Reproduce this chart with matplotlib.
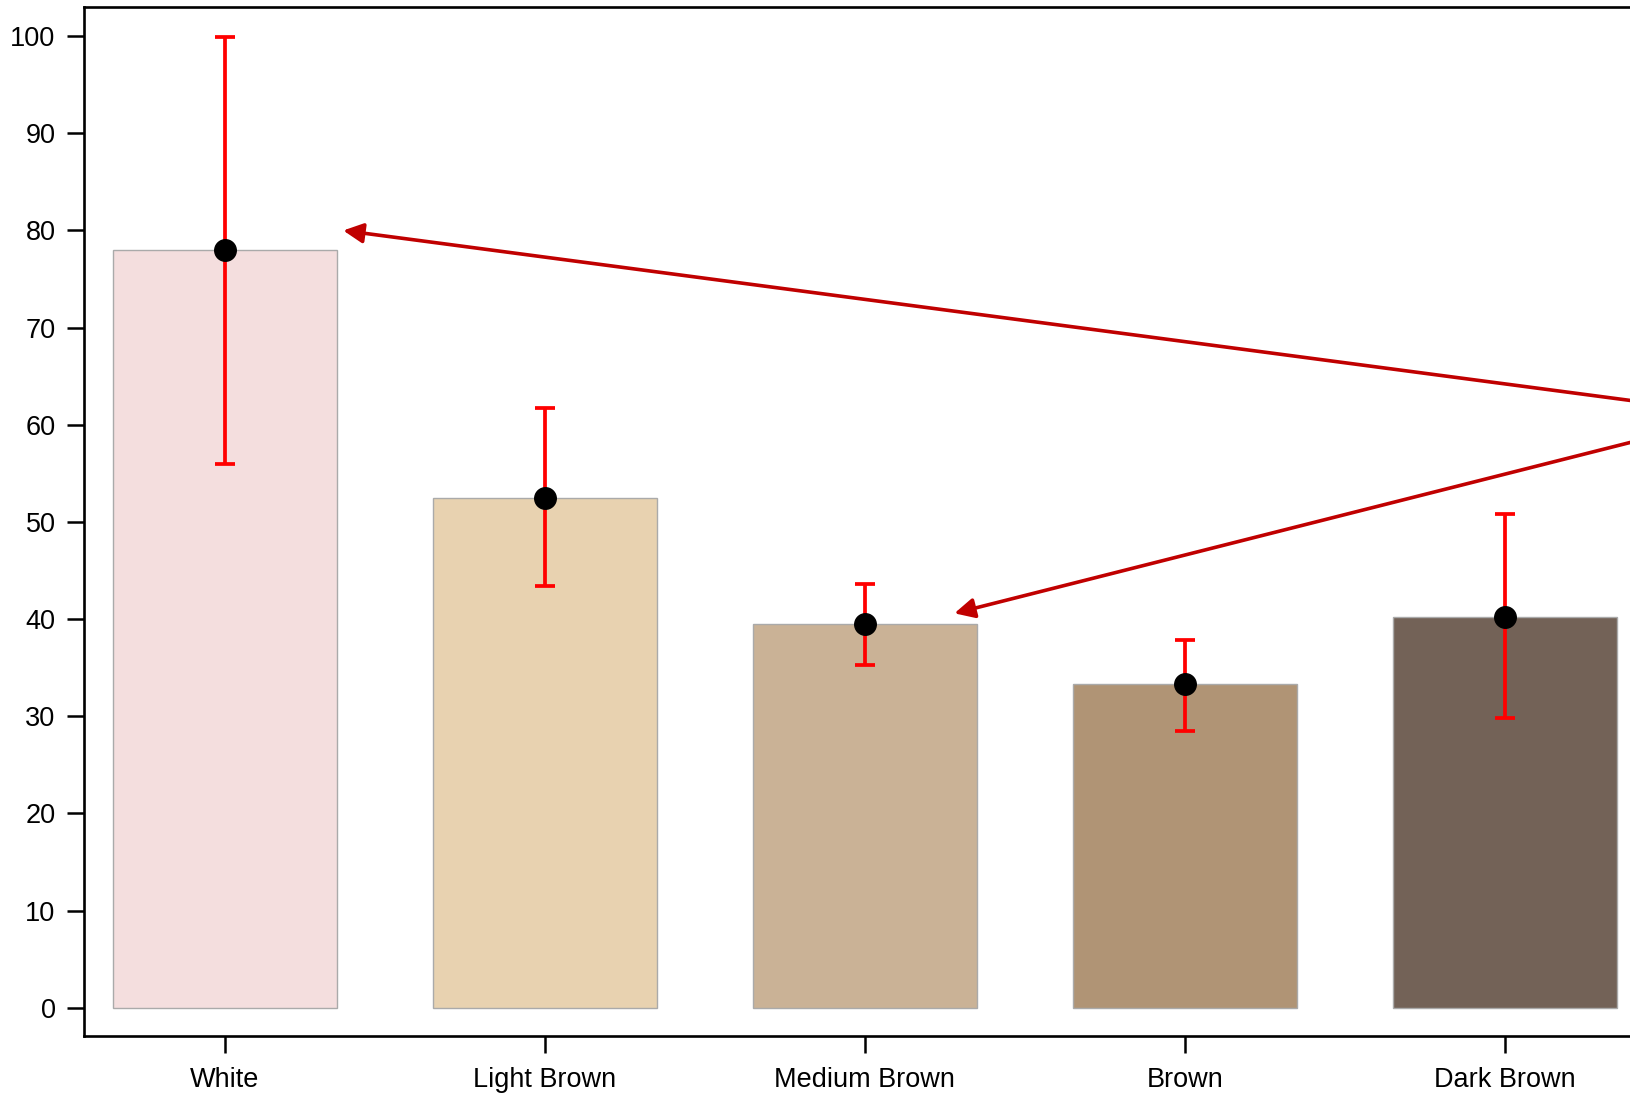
import matplotlib
matplotlib.use("Agg")
import matplotlib.pyplot as plt

categories = ["White", "Light Brown", "Medium Brown", "Brown", "Dark Brown"]
means = [78.0, 52.5, 39.5, 33.3, 40.2]
upper = [99.9, 61.7, 43.6, 37.9, 50.8]
lower = [56.0, 43.4, 35.3, 28.5, 29.8]
bar_colors = ["#F4DEDE", "#E8D2B0", "#CAB296", "#B09475", "#736257"]
yticks = [0, 10, 20, 30, 40, 50, 60, 70, 80, 90, 100]

# arrow targets/sources (data coordinates)
arrow_heads = [(0.37, 80.0), (2.28, 40.6)]
arrow_tails = [(4.67, 61.3), (4.67, 60.5)]

plt.rcParams['font.family'] = ['Liberation Sans', 'DejaVu Sans']

W, H = 1630, 1095
fig = plt.figure(figsize=(W / 100, H / 100), dpi=100)
left_px, bottom_px, top_px = 84, 1036, 7
x0, x1 = -0.44, 4.44
px_per_unit = 320
right_px = left_px + (x1 - x0) * px_per_unit
ax = fig.add_axes([left_px / W, (H - bottom_px) / H,
                   (right_px - left_px) / W, (bottom_px - top_px) / H])

xs = list(range(len(categories)))
ax.bar(xs, means, width=0.7, color=bar_colors, edgecolor="#aaaaaa", linewidth=1.0, zorder=1)
yerr = [[m - l for m, l in zip(means, lower)], [u - m for m, u in zip(means, upper)]]
ax.errorbar(xs, means, yerr=yerr, fmt="none", ecolor="#FF0000", elinewidth=2.7,
            capsize=7.5, capthick=2.7, zorder=2)
ax.plot(xs, means, "o", color="black", markersize=15.5, zorder=3)

for (hx, hy), (tx, ty) in zip(arrow_heads, arrow_tails):
    ax.annotate("", xy=(hx, hy), xytext=(tx, ty), xycoords="data", textcoords="data",
                arrowprops=dict(arrowstyle="-|>,head_length=0.6,head_width=0.3",
                                color="#C00000", lw=2.6, shrinkA=0, shrinkB=0,
                                mutation_scale=20), zorder=4)

ax.set_xlim(x0, x1)
ax.set_ylim(-2.9, 103.0)
ax.set_xticks(xs)
ax.set_xticklabels(categories)
ax.set_yticks(yticks)
ax.tick_params(axis="both", direction="out", length=12.5, width=1.8, labelsize=19.5, color="black")
ax.tick_params(axis="y", pad=8)
ax.tick_params(axis="x", pad=10)
for s in ax.spines.values():
    s.set_linewidth(1.9)
    s.set_color("black")

fig.savefig("out.png", dpi=100)
